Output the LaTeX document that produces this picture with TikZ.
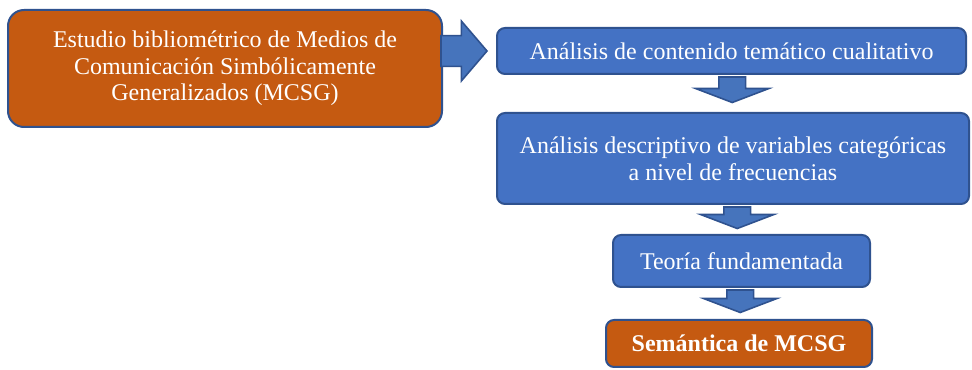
\documentclass[tikz,border=0pt]{standalone}
\usepackage{fontspec}
\setmainfont{Liberation Serif}
\usetikzlibrary{calc}

\definecolor{naranja}{HTML}{C55A11}
\definecolor{azul}{HTML}{4472C4}
\definecolor{borde}{HTML}{2F528F}
\definecolor{azulflecha}{HTML}{4674BC}

\tikzset{
  caja/.style={draw=borde, line width=1.5pt, text=white, align=center, inner sep=0pt,
    font=\fontsize{18}{20}\selectfont},
  cajaazul/.style={caja, fill=azul, rounded corners=6pt},
  cajanaranja/.style={caja, fill=naranja, rounded corners=12pt},
  flecha/.style={fill=azulflecha, draw=borde, line width=1.2pt, line join=miter}
}

\begin{document}
\begin{tikzpicture}[x=0.75pt,y=-0.75pt]
%\draw[help lines,step=50] (0,0) grid (972,370);
\useasboundingbox (0,0) rectangle (972,370);

\node[cajanaranja, minimum width=325.5pt, minimum height=87.75pt] (estudio) at (225,68.5)
  {Estudio bibliométrico de Medios de\\Comunicación Simbólicamente\\Generalizados (MCSG)};
\node[cajaazul, minimum width=351.75pt, minimum height=34.5pt] (contenido) at (731.5,51)
  {Análisis de contenido temático cualitativo};
\node[cajaazul, minimum width=354pt, minimum height=68.25pt] (descriptivo) at (733,158.5)
  {Análisis descriptivo de variables categóricas\\a nivel de frecuencias};
\node[cajaazul, minimum width=192.75pt, minimum height=39pt] (teoria) at (741.5,261)
  {Teoría fundamentada};
\node[cajanaranja, rounded corners=6pt, minimum width=199.5pt, minimum height=35.25pt,
  font=\fontsize{18}{20}\selectfont\bfseries] (semantica) at (739,343.5)
  {Semántica de MCSG};

\draw[flecha] let \p1=(estudio.east), \p2=(contenido.west) in
  (\x1-1.5pt,\y2+11.5pt) -- (\x2-26pt,\y2+11.5pt) -- (\x2-26pt,\y2+22.5pt) -- (\x2-6.75pt,\y2)
  -- (\x2-26pt,\y2-22.5pt) -- (\x2-26pt,\y2-11.5pt) -- (\x1-1.5pt,\y2-11.5pt) -- cycle;

\foreach \a/\b in {contenido/descriptivo, descriptivo/teoria, teoria/semantica}
  \draw[flecha] let \p1=($(\a.south)!.5!(\b.north)$), \p2=(\a.south) in
    (\x1-10pt,\y2-1.5pt) -- (\x1+10pt,\y2-1.5pt) -- (\x1+10pt,\y1+3.75pt) -- (\x1+27.5pt,\y1+3.75pt)
    -- (\x1,\y1-6.75pt) -- (\x1-27.5pt,\y1+3.75pt) -- (\x1-10pt,\y1+3.75pt) -- cycle;
\end{tikzpicture}
\end{document}
